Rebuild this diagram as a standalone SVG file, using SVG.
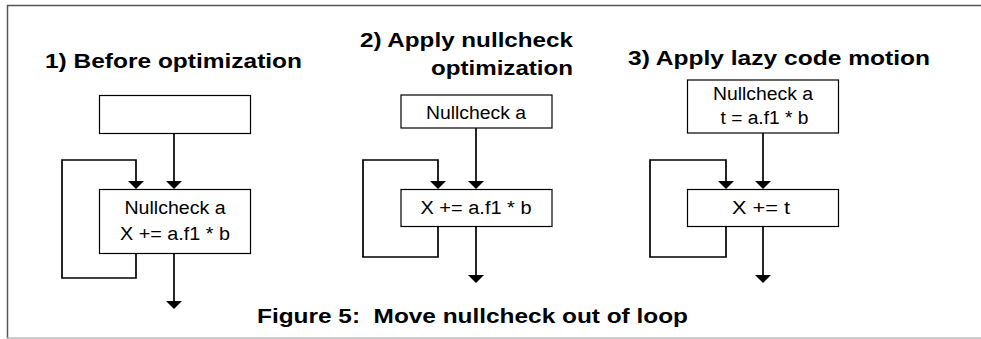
<svg xmlns="http://www.w3.org/2000/svg" width="981" height="339" viewBox="0 0 981 339">
<style>
.box{fill:#fff;stroke:#000;stroke-width:1.2}
.edge{fill:none;stroke:#000;stroke-width:1.7}
.t{font-family:"Liberation Sans",Arial,sans-serif;font-size:18px;fill:#000;text-anchor:middle}
.h{font-family:"Liberation Sans",Arial,sans-serif;font-size:21px;font-weight:bold;fill:#000;white-space:pre}
</style>
<defs>
<marker id="ah" markerUnits="userSpaceOnUse" markerWidth="8" markerHeight="16" refX="0" refY="8" orient="auto" viewBox="0 0 8 16">
<path d="M0,0 L8,8 L0,16 Z" fill="#000"/>
</marker>
</defs>
<rect width="981" height="339" fill="#fff"/>
<g id="frame">
<line x1="7" y1="5.5" x2="981" y2="5.5" stroke="#555" stroke-width="1.5"/>
<line x1="7.5" y1="5" x2="7.5" y2="339" stroke="#555" stroke-width="1.5"/>
<line x1="7" y1="338" x2="981" y2="338" stroke="#bbb" stroke-width="1.5"/>
</g>
<g id="titles">
<text class="h" x="45" y="68" textLength="257" lengthAdjust="spacingAndGlyphs">1) Before optimization</text>
<text class="h" x="360" y="47" textLength="213" lengthAdjust="spacingAndGlyphs">2) Apply nullcheck</text>
<text class="h" x="431" y="75" textLength="142" lengthAdjust="spacingAndGlyphs">optimization</text>
<text class="h" x="628" y="65" textLength="302" lengthAdjust="spacingAndGlyphs">3) Apply lazy code motion</text>
<text class="h" x="257" y="323" textLength="431" lengthAdjust="spacingAndGlyphs" xml:space="preserve">Figure 5:  Move nullcheck out of loop</text>
</g>
<g id="connectors">
<path class="edge" d="M174,133 V181" marker-end="url(#ah)"/>
<path class="edge" d="M136,253 V278 H62 V160 H136 V181" marker-end="url(#ah)"/>
<path class="edge" d="M174,253 V301" marker-end="url(#ah)"/>
<path class="edge" d="M476,128 V181" marker-end="url(#ah)"/>
<path class="edge" d="M438,226 V257 H363 V160 H438 V181" marker-end="url(#ah)"/>
<path class="edge" d="M476,226 V275" marker-end="url(#ah)"/>
<path class="edge" d="M763,133 V181" marker-end="url(#ah)"/>
<path class="edge" d="M726,227 V257 H650 V160 H726 V181" marker-end="url(#ah)"/>
<path class="edge" d="M763,227 V275" marker-end="url(#ah)"/>
</g>
<g id="n1-top"><rect class="box" x="99.5" y="95.5" width="151" height="38"/></g>
<g id="n1-loop"><rect class="box" x="99.5" y="189.5" width="151" height="64"/>
<text class="t" x="175" y="214" textLength="101" lengthAdjust="spacingAndGlyphs">Nullcheck a</text>
<text class="t" x="175" y="240" textLength="110" lengthAdjust="spacingAndGlyphs">X += a.f1 * b</text></g>
<g id="n2-top"><rect class="box" x="401" y="95" width="151" height="33"/>
<text class="t" x="476" y="119" textLength="100" lengthAdjust="spacingAndGlyphs">Nullcheck a</text></g>
<g id="n2-loop"><rect class="box" x="401" y="189.5" width="151" height="37"/>
<text class="t" x="476" y="214" textLength="111" lengthAdjust="spacingAndGlyphs">X += a.f1 * b</text></g>
<g id="n3-top"><rect class="box" x="687.5" y="80" width="151" height="53"/>
<text class="t" x="763" y="100" textLength="100" lengthAdjust="spacingAndGlyphs">Nullcheck a</text>
<text class="t" x="764.5" y="124" textLength="88" lengthAdjust="spacingAndGlyphs">t = a.f1 * b</text></g>
<g id="n3-loop"><rect class="box" x="687.5" y="189.5" width="151" height="37"/>
<text class="t" x="761" y="214" textLength="58" lengthAdjust="spacingAndGlyphs">X += t</text></g>
</svg>
